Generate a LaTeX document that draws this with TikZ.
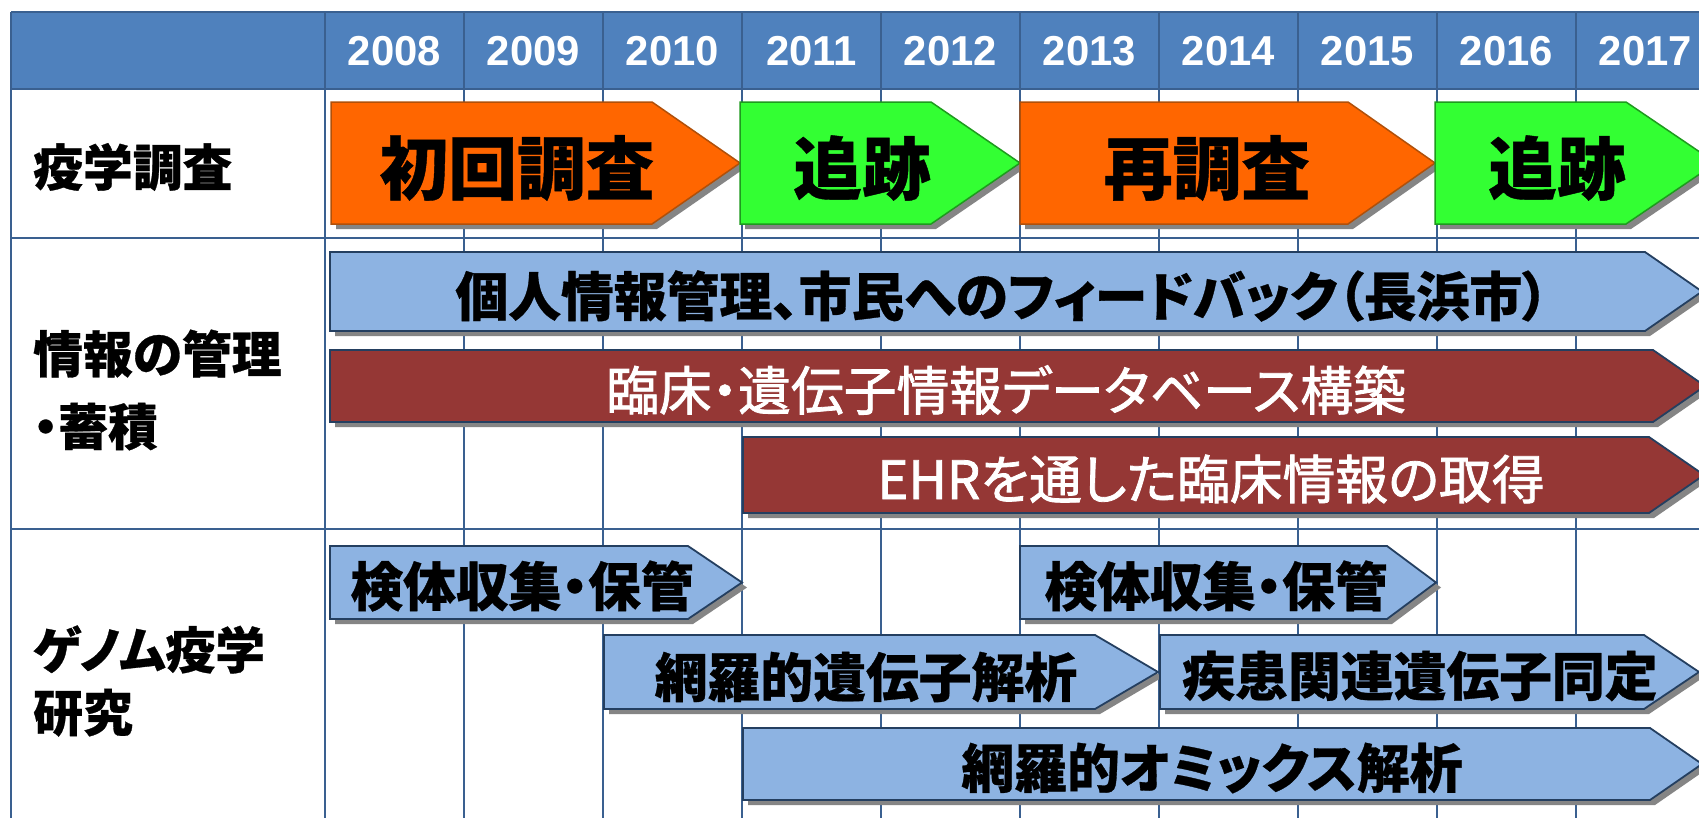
\documentclass[tikz,border=0pt]{standalone}
\usepackage{fontspec}
\setmainfont{Liberation Sans}
\newfontfamily\jp{Noto Sans CJK JP}[RawFeature=+palt,BoldFeatures={FakeBold=0.6}]
\newfontfamily\jpw{Noto Sans CJK JP}[RawFeature=+palt,FakeBold=1.5]
\definecolor{hdr}{HTML}{4F81BD}
\definecolor{gridc}{HTML}{3A6090}
\definecolor{org}{HTML}{FF6600}
\definecolor{orgb}{HTML}{B0500A}
\definecolor{grn}{HTML}{33FF33}
\definecolor{grnb}{HTML}{1E9A1E}
\definecolor{lblue}{HTML}{8DB3E2}
\definecolor{navy}{HTML}{243F60}
\definecolor{dred}{HTML}{953735}
\definecolor{shd}{HTML}{858585}
\newcommand\pent[6]{%
  \fill[shd,shift={(5,5)}] (#2,#3) -- ({#4-#6},#3) -- (#4,{(#3+#5)/2}) -- ({#4-#6},#5) -- (#2,#5) -- cycle;
  \draw[#1] (#2,#3) -- ({#4-#6},#3) -- (#4,{(#3+#5)/2}) -- ({#4-#6},#5) -- (#2,#5) -- cycle;}
\begin{document}
\begin{tikzpicture}[x=1bp,y=-1bp,
  gridline/.style={draw=gridc,line width=2.8bp},
  orangearr/.style={fill=org,draw=orgb,line width=1.5bp,line join=miter},
  greenarr/.style={fill=grn,draw=grnb,line width=1.5bp,line join=miter},
  bluearr/.style={fill=lblue,draw=navy,line width=1.8bp,line join=miter},
  redarr/.style={fill=dred,draw=navy,line width=1.8bp,line join=miter},
  yr/.style={font=\fontsize{42}{42}\selectfont\bfseries,text=white,inner sep=0},
  lab/.style={font=\jp\bfseries\fontsize{50}{73}\selectfont,anchor=west,inner sep=0,align=left},
  big/.style={font=\jp\bfseries\fontsize{69}{69}\selectfont,inner sep=0},
  mid/.style={font=\jp\bfseries\fontsize{53}{53}\selectfont,inner sep=0},
  wht/.style={font=\jpw\fontsize{53}{53}\selectfont,text=white,inner sep=0}]
\useasboundingbox (0,0) rectangle (1699,818);
\clip (0,0) rectangle (1699,818);
\fill[white] (0,0) rectangle (1699,818);
% header band
\fill[hdr] (11,12) rectangle (1720,89);
% grid
\draw[gridline] (11,12) -- (1720,12);
\foreach \yy in {89,238,529} \draw[gridline] (11,\yy) -- (1720,\yy);
\draw[gridline] (11,12) -- (11,830);
\foreach \k in {0,...,10} \draw[gridline] ({325+139*\k},12) -- ({325+139*\k},830);
% years
\foreach \yrr [count=\i from 0] in {2008,...,2017}
  \node[yr] (year\yrr) at ({394.5+139*\i},51) {\yrr};
% row labels
\node[lab] (lab1) at (33,167) {疫学調査};
\node[lab] (lab2) at (33,390) {情報の管理\\・蓄積};
\node[lab,font=\jp\bfseries\fontsize{50}{63}\selectfont] (lab3) at (33,681) {ゲノム疫学\\研究};
% row 1
\pent{orangearr}{331}{102}{740}{224}{88}
\pent{greenarr}{740}{102}{1020}{224}{89}
\pent{orangearr}{1020}{102}{1435}{224}{87}
\pent{greenarr}{1435}{102}{1716}{224}{90}
\node[big] (t1) at (517,168) {初回調査};
\node[big] (t2) at (862,168) {追跡};
\node[big] (t3) at (1207,168) {再調査};
\node[big] (t4) at (1557,168) {追跡};
% row 2
\pent{bluearr}{330}{252}{1702}{331}{57}
\pent{redarr}{330}{350}{1705}{422}{52}
\pent{redarr}{743}{437}{1704}{513}{55}
\node[mid] (t5) at (1002,296) {個人情報管理、市民へのフィードバック（長浜市）};
\node[wht] (t6) at (1006,390) {臨床・遺伝子情報データベース構築};
\node[wht] (t7) at (1211,479) {EHRを通した臨床情報の取得};
% row 3
\pent{bluearr}{330}{546}{742}{619}{54}
\pent{bluearr}{1020}{546}{1436}{619}{49}
\pent{bluearr}{604}{635}{1158}{709}{63}
\pent{bluearr}{1160}{635}{1699}{709}{55}
\pent{bluearr}{743}{728}{1702}{800}{52}
\node[mid] (t8) at (522,586) {検体収集・保管};
\node[mid] (t9) at (1216,586) {検体収集・保管};
\node[mid] (t10) at (866,677) {網羅的遺伝子解析};
\node[mid] (t11) at (1420,676) {疾患関連遺伝子同定};
\node[mid] (t12) at (1212,768) {網羅的オミックス解析};
\end{tikzpicture}
\end{document}
